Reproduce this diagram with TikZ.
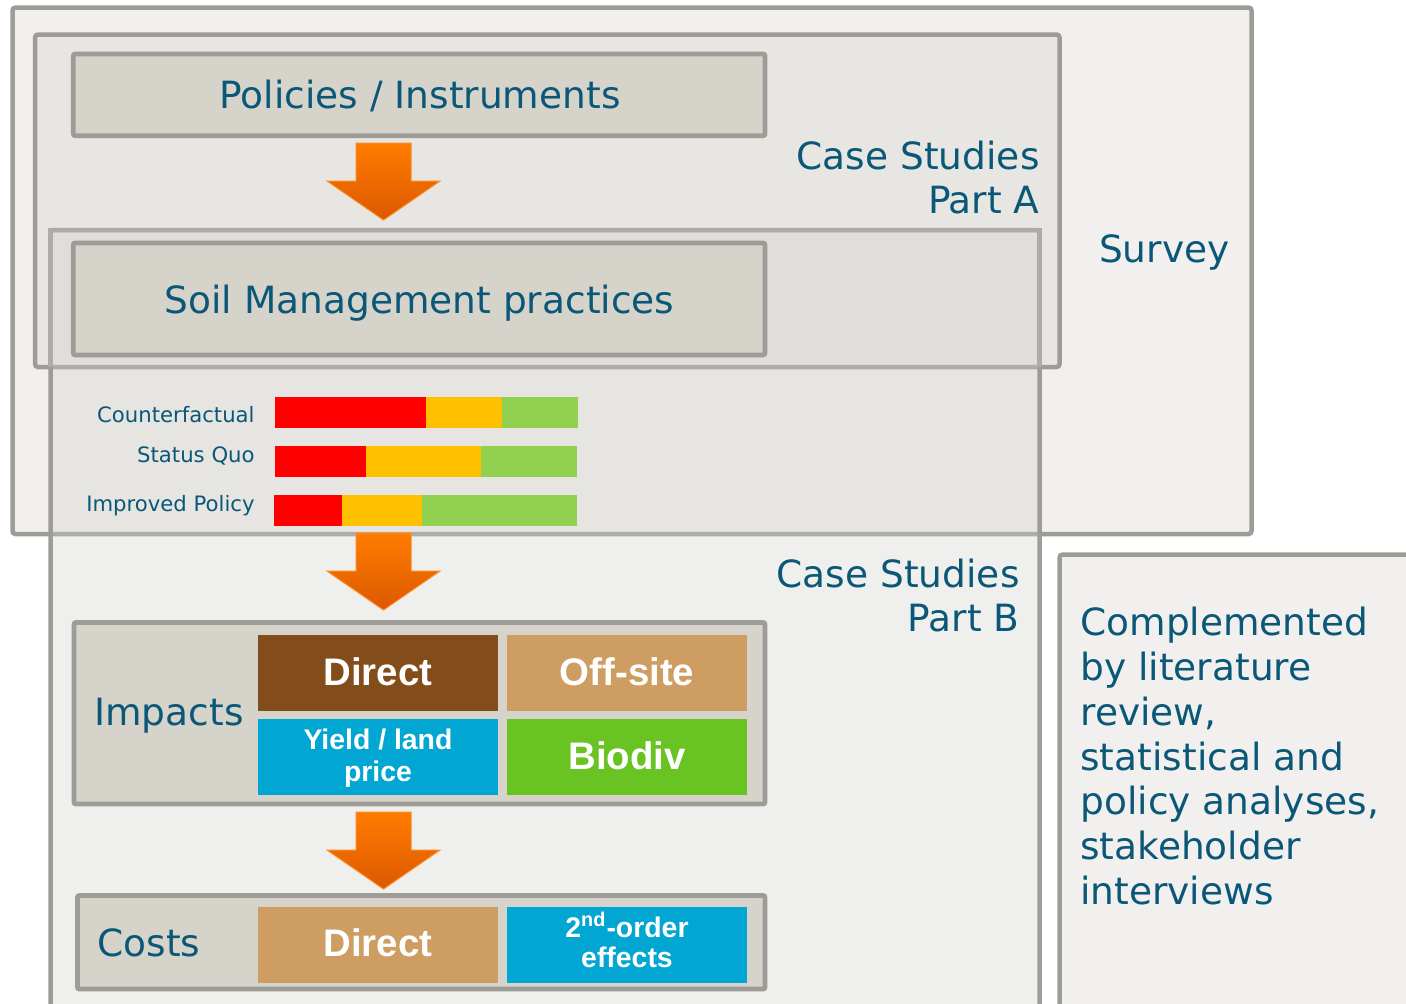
\documentclass[tikz,border=0pt]{standalone}
\usepackage{fontspec}
\setmainfont{DejaVu Sans}
\newfontfamily\tilefamily{Liberation Sans}
\usetikzlibrary{fit}

\definecolor{ink}{HTML}{0B5777}
\definecolor{framegray}{HTML}{9D9C97}
\definecolor{framelight}{HTML}{AEACA7}
\definecolor{surveyfill}{HTML}{F1F0EE}
\definecolor{partafill}{HTML}{E7E6E2}
\definecolor{partbfill}{HTML}{D0CFCB}
\definecolor{panelfill}{HTML}{D6D3CB}
\definecolor{soilbrown}{HTML}{834D1B}
\definecolor{sand}{HTML}{CE9D62}
\definecolor{sky}{HTML}{02A6D2}
\definecolor{leaf}{HTML}{69C322}
\definecolor{barred}{HTML}{FF0000}
\definecolor{baramber}{HTML}{FFC000}
\definecolor{bargreen}{HTML}{92D050}
\definecolor{arrowtop}{HTML}{FF7C00}
\definecolor{arrowbot}{HTML}{DC5800}
\definecolor{arrowedge}{HTML}{FF8A20}

\tikzset{
  frame/.style={draw=framegray, line width=2.25pt, rounded corners=1.5pt, inner sep=0pt},
  panel/.style={draw=framegray, fill=panelfill, line width=2.4pt, rounded corners=1pt, inner sep=0pt},
  tile/.style={inner sep=0pt},
  bigtext/.style={text=ink, inner sep=0pt, font=\fontsize{18.75pt}{22.4pt}\selectfont},
  smalltext/.style={text=ink, inner sep=0pt, font=\fontsize{10.6pt}{12pt}\selectfont},
  tiletext/.style={text=white, inner sep=0pt, font=\tilefamily\bfseries\fontsize{19.2pt}{22pt}\selectfont},
  tilesmall/.style={text=white, inner sep=0pt, align=center, font=\tilefamily\bfseries\fontsize{14.2pt}{16.2pt}\selectfont},
  pics/flowarrow/.style={code={
    \shade[top color=arrowtop, bottom color=arrowbot, draw=arrowedge, line width=0.5pt]
      (-27.5,0) -- (27.5,0) -- (27.5,38) -- (56.5,38) -- (0,77) -- (-56.5,38) -- (-27.5,38) -- cycle;
  }}
}

\begin{document}
\begin{tikzpicture}[x=0.5pt,y=-0.5pt]
\useasboundingbox (0,0) rectangle (1406,1003);
\clip (0,0) rectangle (1406,1003);
\fill[white] (0,0) rectangle (1406,1003);

% nested study frames
\node[frame, fill=surveyfill, fit={(12.5,7.5) (1251.5,534)}] (survey) {};
\node[frame, fill=partafill, fit={(35,34.5) (1059.5,367)}] (parta) {};
\node[frame, fill=partbfill, fill opacity=0.333, fit={(50.5,230) (1039.5,1040)}] (partb) {};
\draw[draw=framelight, line width=2.25pt] (50.5,367) -- (50.5,230) -- (1039.5,230) -- (1039.5,367);
\node[frame, fill=surveyfill, fit={(1059.5,554.5) (1440,1040)}] (extra) {};

% frame captions
\node[bigtext, anchor=base east] (capA1) at (1040,169) {Case Studies};
\node[bigtext, anchor=base east] (capA2) at (1040,213) {Part A};
\node[bigtext, anchor=base east] (capS) at (1230,262) {Survey};
\node[bigtext, anchor=base east] (capB1) at (1020,587) {Case Studies};
\node[bigtext, anchor=base east] (capB2) at (1020,631) {Part B};
\node[bigtext, anchor=base west] (l1) at (1080,635) {Complemented};
\node[bigtext, anchor=base west] (l2) at (1080,680) {by literature};
\node[bigtext, anchor=base west] (l3) at (1080,725) {review,};
\node[bigtext, anchor=base west] (l4) at (1080,770) {statistical and};
\node[bigtext, anchor=base west] (l5) at (1080,814) {policy analyses,};
\node[bigtext, anchor=base west] (l6) at (1080,859) {stakeholder};
\node[bigtext, anchor=base west] (l7) at (1080,904) {interviews};

% policy chain
\node[panel, fit={(73.3,54) (765,135.7)}] (policies) {};
\node[bigtext, anchor=base] (policiestext) at (420,108.5) {Policies / Instruments};
\pic at (383.5,143) {flowarrow};
\node[panel, fit={(73.3,243) (765,355)}] (soil) {};
\node[bigtext, anchor=base] (soiltext) at (419.5,313) {Soil Management practices};

% scenario bars
\node[smalltext, anchor=base east] (cf) at (255,422) {Counterfactual};
\node[smalltext, anchor=base east] (sq) at (255,462.5) {Status Quo};
\node[smalltext, anchor=base east] (ip) at (255,511.5) {Improved Policy};
\fill[barred] (275,397) rectangle (426,428);
\fill[baramber] (426,397) rectangle (502,428);
\fill[bargreen] (502,397) rectangle (578,428);
\fill[barred] (275,446) rectangle (366,477);
\fill[baramber] (366,446) rectangle (481,477);
\fill[bargreen] (481,446) rectangle (577,477);
\fill[barred] (274,495) rectangle (342,526);
\fill[baramber] (342,495) rectangle (422,526);
\fill[bargreen] (422,495) rectangle (577,526);

\pic at (383.5,533) {flowarrow};

% impacts
\node[panel, fit={(74,622.5) (765,804)}] (impacts) {};
\node[bigtext, anchor=base west] (impactstext) at (94,725) {Impacts};
\node[tile, fill=soilbrown, fit={(258,635) (498,710.7)}] (impdirect) {};
\node[tile, fill=sand, fit={(506.7,635) (746.9,710.7)}] (offsite) {};
\node[tile, fill=sky, fit={(258,719) (498,794.7)}] (yield) {};
\node[tile, fill=leaf, fit={(506.7,719) (746.9,794.7)}] (biodiv) {};
\node[tiletext, anchor=base] at (378,685) {Direct};
\node[tiletext, anchor=base] at (627,685) {Off-site};
\node[tilesmall, anchor=base] at (378,749) {Yield / land};
\node[tilesmall, anchor=base] at (378,781) {price};
\node[tiletext, anchor=base] at (627,769) {Biodiv};

\pic at (383.5,812) {flowarrow};

% costs
\node[panel, fit={(77.5,895.5) (765,989)}] (costs) {};
\node[bigtext, anchor=base west] (coststext) at (97,956) {Costs};
\node[tile, fill=sand, fit={(258,906.7) (498,982.7)}] (costdirect) {};
\node[tile, fill=sky, fit={(506.7,906.7) (746.9,982.7)}] (secondorder) {};
\node[tiletext, anchor=base] at (378,956) {Direct};
\node[tilesmall, anchor=base] at (627,937) {2\textsuperscript{nd}-order};
\node[tilesmall, anchor=base] at (627,967) {effects};
\end{tikzpicture}
\end{document}
